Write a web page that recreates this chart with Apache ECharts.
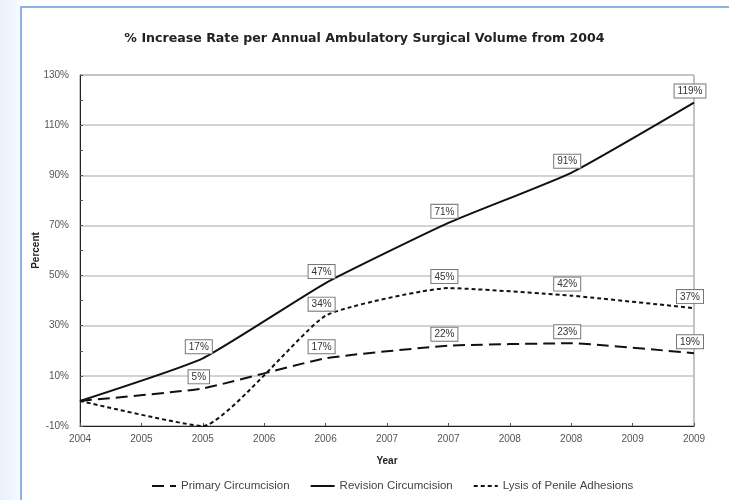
<!DOCTYPE html>
<html>
<head>
<meta charset="utf-8">
<script src="https://cdn.jsdelivr.net/npm/echarts@6/dist/echarts.min.js"></script>
<style>
  html, body { margin: 0; padding: 0; background: #fff; }
  #wrap { position: relative; width: 729px; height: 500px; overflow: hidden;
          background: linear-gradient(to right, #eaf1fb 0px, #f7faff 20px, #fff 20px); }
  #frame { position: absolute; left: 20px; top: 6px; width: 720px; height: 500px;
           border-left: 2px solid #8db3e6; border-top: 2px solid #8db3e6; background: #fff; }
  #chart { position: absolute; left: 0; top: 0; width: 729px; height: 500px; }
</style>
</head>
<body>
<div id="wrap">
  <div id="frame"></div>
  <div id="chart"></div>
</div>
<script>
var years = [2004, 2005, 2006, 2007, 2008, 2009];
var tickLabels = ['2004','2005','2005','2006','2006','2007','2007','2008','2008','2009','2009'];
var primary = [0, 5, 17, 22, 23, 19];
var revision = [0, 17, 47, 71, 91, 119];
var lysis = [0, -10, 34, 45, 42, 37];
var names = ['Primary Circumcision', 'Revision Circumcision', 'Lysis of Penile Adhesions'];

function points(vals){
  return vals.map(function(v, i){
    return { value: [years[i], v], label: { show: v > 0 } };
  });
}

function makeSeries(name, vals, dash){
  return {
    name: name,
    type: 'line',
    data: points(vals),
    symbol: 'circle',
    symbolSize: 0.1,
    showSymbol: true,
    smooth: 0.15,
    lineStyle: { color: '#111', width: 2, type: dash },
    itemStyle: { color: '#111' },
    label: {
      show: true,
      position: 'top', distance: 5, offset: [-4, 0],
      formatter: function(p){ return p.value[1] + '%'; },
      fontFamily: 'Liberation Sans', fontSize: 10, color: '#333',
      backgroundColor: '#fff', borderColor: '#777', borderWidth: 1,
      padding: [2, 3, 1, 3]
    }
  };
}

var chart = echarts.init(document.getElementById('chart'));
chart.setOption({
  animation: false,
  title: {
    text: '% Increase Rate per Annual Ambulatory Surgical Volume from 2004',
    left: 'center', top: 27,
    textStyle: { fontFamily: 'DejaVu Sans', fontSize: 12.6, fontWeight: 'bold', color: '#222' }
  },
  legend: {
    bottom: 3, left: 146, itemWidth: 24, itemHeight: 10, itemGap: 20,
    data: names,
    itemStyle: { opacity: 0 },
    textStyle: { fontFamily: 'Liberation Sans', fontSize: 11.5, color: '#444' }
  },
  grid: { left: 80, right: 35, top: 75, bottom: 74, show: true, borderColor: '#888', borderWidth: 1 },
  xAxis: {
    type: 'value', min: 2004, max: 2009, interval: 0.5,
    name: 'Year', nameLocation: 'middle', nameGap: 30,
    nameTextStyle: { fontFamily: 'Liberation Sans', fontSize: 10, fontWeight: 'bold', color: '#222' },
    axisLine: { onZero: false, lineStyle: { color: '#222', width: 1 } },
    axisTick: { inside: true, length: 3, lineStyle: { color: '#555' } },
    splitLine: { show: false },
    axisLabel: {
      fontFamily: 'Liberation Sans', fontSize: 10, color: '#555', margin: 8,
      formatter: function(v){ return tickLabels[Math.round((v - 2004) * 2)]; }
    }
  },
  yAxis: {
    type: 'value', min: -10, max: 130, interval: 10,
    name: 'Percent', nameLocation: 'middle', nameGap: 39, nameRotate: 90,
    nameMoveOverlap: false,
    nameTextStyle: { fontFamily: 'Liberation Sans', fontSize: 10, fontWeight: 'bold', color: '#222' },
    axisLine: { show: true, onZero: false, lineStyle: { color: '#222', width: 1 } },
    axisTick: { show: true, inside: true, length: 3, lineStyle: { color: '#555' } },
    splitLine: { show: true, lineStyle: { color: ['#c4c4c4', 'rgba(0,0,0,0)'], width: 1.5 } },
    axisLabel: {
      fontFamily: 'Liberation Sans', fontSize: 10, color: '#555', margin: 11,
      formatter: function(v){ return ((v + 10) % 20 === 0) ? v + '%' : ''; }
    }
  },
  series: [
    makeSeries(names[0], primary, [12, 6]),
    makeSeries(names[1], revision, 'solid'),
    makeSeries(names[2], lysis, [4, 3])
  ]
});
</script>
</body>
</html>
